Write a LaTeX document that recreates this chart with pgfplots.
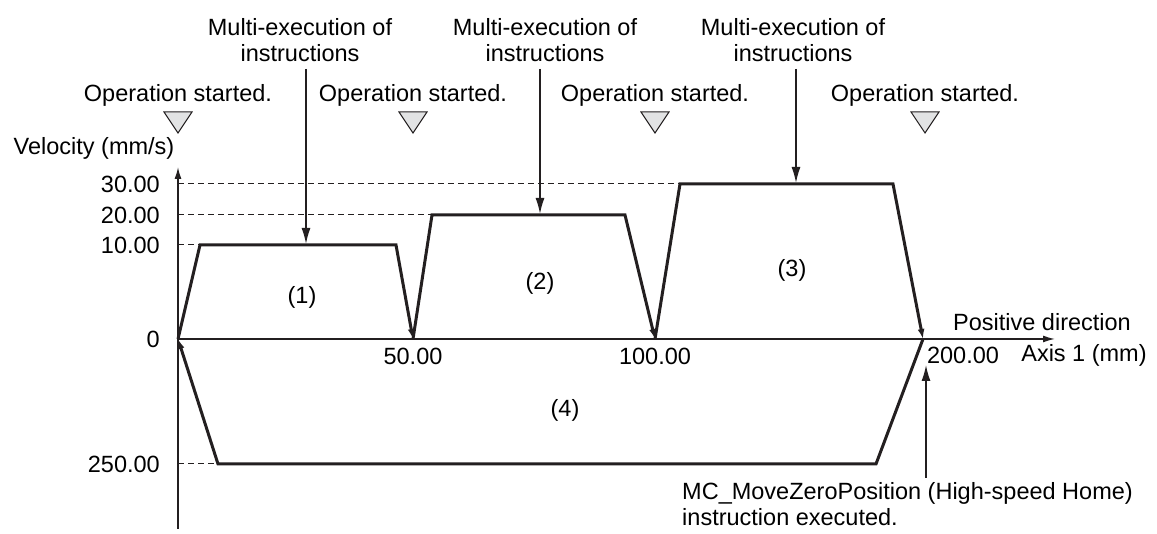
\documentclass[border=0pt]{standalone}
\usepackage{fontspec}
\setmainfont{Liberation Sans}
\usepackage{pgfplots}
\pgfplotsset{compat=1.18}
\usetikzlibrary{arrows.meta}
\definecolor{ink}{HTML}{231F20}
\definecolor{tri}{HTML}{E2E3E4}

\begin{document}
\fontsize{11.75}{13}\selectfont
\begin{tikzpicture}
\begin{axis}[
    width=578.5pt, height=264.5pt, scale only axis,
    xmin=-178, xmax=979, ymin=-190, ymax=339,
    hide axis, clip=false,
    every node/.append style={text=ink},
]
% frame (keeps the picture size)
\addplot[draw=none, forget plot] coordinates {(-178,-190) (979,339)};

% axes
\addplot[ink, line width=0.75pt, -{Latex[length=6pt,width=3.5pt]}] coordinates {(0,-190) (0,172)};
\addplot[ink, line width=0.75pt, -{Latex[length=6pt,width=3.5pt]}] coordinates {(0,0) (877,0)};

% guides
\addplot[ink, line width=0.5pt, dash pattern=on 3pt off 2pt] coordinates {(0,155) (502,155)};
\addplot[ink, line width=0.5pt, dash pattern=on 3pt off 2pt] coordinates {(0,124) (254,124)};
\addplot[ink, line width=0.5pt, dash pattern=on 3pt off 2pt] coordinates {(0,94) (22,94)};
\addplot[ink, line width=0.5pt, dash pattern=on 3pt off 2pt] coordinates {(0,-125) (40,-125)};

% velocity profiles (1)-(4)
\addplot[ink, line width=1.5pt, -{Latex[length=5pt,width=3.5pt]}] coordinates {(0,0) (22,94) (218,94) (235,0)};
\addplot[ink, line width=1.5pt, -{Latex[length=5pt,width=3.5pt]}] coordinates {(235,0) (254,124) (447,124) (477,0)};
\addplot[ink, line width=1.5pt, -{Latex[length=5pt,width=3.5pt]}] coordinates {(477,0) (502,155) (715,155) (745,0)};
\addplot[ink, line width=1.5pt, -{Latex[length=5pt,width=3.5pt]}] coordinates {(745,0) (698,-125) (40,-125) (0,0)};

% start markers
\addplot[fill=tri, draw=ink, line width=0.5pt] coordinates {(-14,227) (14,227) (0,206)} --cycle;
\addplot[fill=tri, draw=ink, line width=0.5pt] coordinates {(221,227) (249,227) (235,206)} --cycle;
\addplot[fill=tri, draw=ink, line width=0.5pt] coordinates {(463,227) (491,227) (477,206)} --cycle;
\addplot[fill=tri, draw=ink, line width=0.5pt] coordinates {(733,227) (761,227) (747,206)} --cycle;

% annotation arrows
\addplot[ink, line width=0.75pt, -{Latex[length=8pt,width=4.5pt]}] coordinates {(128,270) (128,95)};
\addplot[ink, line width=0.75pt, -{Latex[length=8pt,width=4.5pt]}] coordinates {(362,270) (362,125)};
\addplot[ink, line width=0.75pt, -{Latex[length=8pt,width=4.5pt]}] coordinates {(618,270) (618,156)};
\addplot[ink, line width=0.75pt, -{Latex[length=8pt,width=4.5pt]}] coordinates {(748,-139) (748,-26)};

% texts
\node at (axis cs:0,244) {Operation started.};
\node at (axis cs:235,244) {Operation started.};
\node at (axis cs:477,244) {Operation started.};
\node at (axis cs:747,244) {Operation started.};
\node[align=center] at (axis cs:122,299) {Multi-execution of\\instructions};
\node[align=center] at (axis cs:367,299) {Multi-execution of\\instructions};
\node[align=center] at (axis cs:615,299) {Multi-execution of\\instructions};
\node at (axis cs:-84,191) {Velocity (mm/s)};

\node[anchor=east] at (axis cs:-10,155) {30.00};
\node[anchor=east] at (axis cs:-10,124) {20.00};
\node[anchor=east] at (axis cs:-10,94) {10.00};
\node[anchor=east] at (axis cs:-10,0) {0};
\node[anchor=east] at (axis cs:-10,-125) {250.00};

\node at (axis cs:235,-17) {50.00};
\node at (axis cs:477,-17) {100.00};
\node at (axis cs:785,-16) {200.00};
\node at (axis cs:906,-16) {Axis 1 (mm)};
\node at (axis cs:864,17) {Positive direction};

\node at (axis cs:124,42) {(1)};
\node at (axis cs:362,56) {(2)};
\node at (axis cs:614,69) {(3)};
\node at (axis cs:387,-71) {(4)};

\node[anchor=west, align=left] at (axis cs:496,-165) {MC\_MoveZeroPosition (High-speed Home)\\instruction executed.};
\end{axis}
\end{tikzpicture}
\end{document}
